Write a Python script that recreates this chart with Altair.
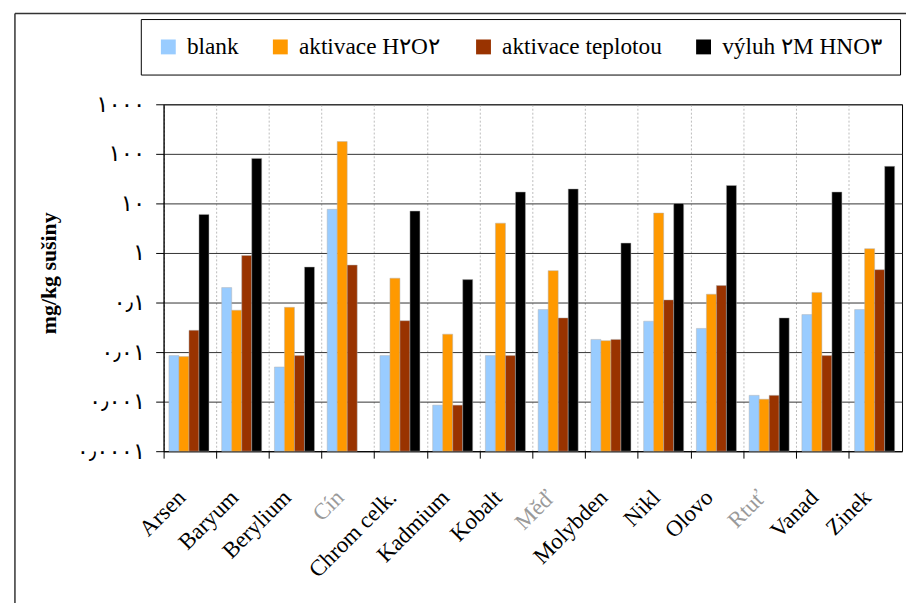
import json
import altair as alt
import pandas as pd

categories = ["Arsen", "Baryum", "Berylium", "Cín", "Chrom celk.", "Kadmium", "Kobalt",
              "Měď", "Molybden", "Nikl", "Olovo", "Rtuť", "Vanad", "Zinek"]
garbled = ["Cín", "Měď", "Rtuť"]
series = ["blank", "aktivace H٢O٢", "aktivace teplotou", "výluh ٢M HNO٣"]

blank = [0.0085, 0.20, 0.005, 7.6, 0.0085, 0.00085, 0.0085, 0.072, 0.018, 0.042, 0.030, 0.00134, 0.057, 0.072]
h2o2 = [0.0081, 0.070, 0.080, 177, 0.31, 0.023, 4.0, 0.44, 0.017, 6.4, 0.147, 0.00112, 0.16, 1.22]
teplota = [0.0275, 0.89, 0.0085, 0.57, 0.043, 0.00085, 0.0085, 0.049, 0.018, 0.113, 0.22, 0.00134, 0.0085, 0.46]
vyluh = [6.0, 81, 0.52, None, 7.0, 0.29, 17, 19.6, 1.58, 10, 23, 0.049, 17, 56]

colors = ["#99CCFF", "#FF9900", "#993300", "#000000"]

y_ticks = [0.0001, 0.001, 0.01, 0.1, 1, 10, 100, 1000]
y_labels = ["٠٫٠٠٠١", "٠٫٠٠١", "٠٫٠١", "٠٫١", "١", "١٠", "١٠٠", "١٠٠٠"]
y_title = "mg/kg sušiny"

rows = []
for s, vals in zip(series, [blank, h2o2, teplota, vyluh]):
    for c, v in zip(categories, vals):
        if v is not None:
            rows.append({"prvek": c, "serie": s, "hodnota": v})
df = pd.DataFrame(rows)

label_expr = json.dumps(y_labels, ensure_ascii=False) + "[round(log(datum.value)/LN10)+4]"
garb = json.dumps(garbled, ensure_ascii=False)

bars = alt.Chart(df).mark_bar(stroke="#b0b0b0", strokeWidth=0.6, strokeOpacity=0.8).encode(
    x=alt.X("prvek:N", sort=categories, title=None,
            scale=alt.Scale(paddingInner=0, paddingOuter=0),
            axis=alt.Axis(labelAngle=-45, labelFont="Liberation Serif", labelFontSize=23,
                          labelColor={"expr": f"indexof({garb}, datum.value) >= 0 ? '#9a9a9a' : 'black'"},
                          labelPadding=28, labelOffset=-16, labelLimit=0,
                          tickSize=7, tickColor="black", domainColor="black",
                          grid=True, gridDash=[2, 2], gridColor="#bbbbbb",
                          bandPosition=0)),
    xOffset=alt.XOffset("serie:N", sort=series,
                        scale=alt.Scale(paddingInner=0, paddingOuter=0.635, align=0.42)),
    y=alt.Y("hodnota:Q",
            scale=alt.Scale(type="log", domain=[0.0001, 1000]),
            axis=alt.Axis(values=y_ticks, labelExpr=label_expr, labelFont="DejaVu Sans",
                          labelFontSize=23, labelPadding=11, labelColor="black",
                          tickSize=8, tickColor="black", domainColor="black",
                          grid=True, gridColor="#333333",
                          title=y_title, titleFont="Liberation Serif", titleFontSize=22,
                          titleFontWeight="bold", titleColor="black", titleAngle=270,
                          titleX=-116, titleY=170, titleAlign="center", titleBaseline="middle")),
    y2=alt.datum(0.0001),
    color=alt.Color("serie:N", sort=series,
                    scale=alt.Scale(domain=series, range=colors),
                    legend=alt.Legend(title=None, orient="none", legendX=-23, legendY=-86,
                                      direction="horizontal", columns=4)),
)

frame_df = pd.DataFrame({"k": [0]})
frame_left = alt.Chart(frame_df).mark_rule(color="#333333", strokeWidth=1.5).encode(
    x=alt.value(-150), y=alt.value(-91.5), y2=alt.value(520))
frame_top = alt.Chart(frame_df).mark_rule(color="#333333", strokeWidth=1.5).encode(
    x=alt.value(-150), x2=alt.value(780), y=alt.value(-91.5))

chart = alt.layer(bars, frame_left, frame_top).properties(
    width=745, height=350, autosize="none",
    padding={"left": 157, "top": 94.5, "right": 4, "bottom": 150},
).configure_view(stroke="black", strokeWidth=1).configure_legend(
    symbolType="square", symbolSize=225, symbolStrokeWidth=0,
    labelFont="Liberation Serif", labelFontSize=23.5, labelColor="black",
    labelOffset=7, labelLimit=0, columnPadding=30, padding=16,
    strokeColor="black", fillColor="white",
)

chart.save("out.html", embed_options={"renderer": "svg", "actions": False})
